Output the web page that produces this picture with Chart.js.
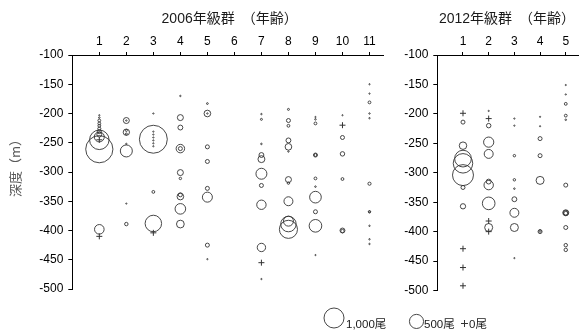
<!DOCTYPE html>
<html>
<head>
<meta charset="utf-8">
<script src="https://cdn.jsdelivr.net/npm/chart.js@4/dist/chart.umd.min.js"></script>
<style>
  html, body { margin: 0; padding: 0; width: 584px; height: 334px; overflow: hidden; background: #fff; }
  #c2006 { position: absolute; left: 0; top: 0; }
  #c2012 { position: absolute; left: 390px; top: 0; }
</style>
</head>
<body>
<canvas id="c2006" width="584" height="334"></canvas>
<canvas id="c2012" width="200" height="334"></canvas>
<script>
// 2006 year class: age (years), depth (m), number of fish caught
const ages2006 = [
  1,1,1,1,1,1,1,1,1,1,1,1,1,1,
  2,2,2,2,2,2,2,2,2,
  3,3,3,3,3,3,3,3,3,3,3,
  4,4,4,4,4,4,4,4,4,4,4,
  5,5,5,5,5,5,5,5,5,
  7,7,7,7,7,7,7,7,7,7,7,
  8,8,8,8,8,8,8,8,8,8,8,8,
  9,9,9,9,9,9,9,9,9,9,9,
  10,10,10,10,10,10,10,
  11,11,11,11,11,11,11,11,11,11,11
];
const depths2006 = [
  -203,-207,-212,-217,-221,-226,-231,-236,-240,-245,-261,-245,-398,-410,
  -212,-212,-229,-232,-235,-252,-264,-354,-389,
  -200,-231,-236,-241,-246,-251,-256,-244,-334,-388,-404,
  -170,-207,-224,-260,-260,-301,-311,-339,-342,-363,-389,
  -183,-200,-200,-257,-282,-328,-343,-425,-449,
  -201,-210,-252,-271,-278,-303,-323,-356,-429,-455,-483,
  -193,-212,-221,-246,-257,-265,-313,-319,-350,-384,-389,-398,
  -206,-210,-217,-271,-271,-311,-325,-343,-368,-392,-442,
  -203,-220,-241,-269,-312,-400,-401,
  -150,-166,-181,-200,-208,-320,-368,-368,-392,-415,-423
];
const counts2006 = [
  4,6,20,20,20,25,40,60,250,950,1850,0,230,0,
  90,5,10,100,10,5,360,3,30,
  4,4,4,4,4,4,4,1950,20,680,0,
  5,90,60,180,40,90,15,40,110,280,150,
  8,110,5,40,40,40,250,40,4,
  5,10,6,60,120,300,40,220,175,0,4,
  10,40,20,60,110,5,90,15,200,250,600,820,
  4,6,20,40,20,20,6,340,40,400,3,
  3,0,40,50,20,60,30,
  4,4,20,5,5,25,15,8,5,5,5
];

// 2012 year class
const ages2012 = [
  1,1,1,1,1,1,1,1,1,1,1,
  2,2,2,2,2,2,2,2,2,2,2,
  3,3,3,3,3,3,3,3,3,
  4,4,4,4,4,4,4,
  5,5,5,5,5,5,5,5,5,5,5,5
];
const depths2012 = [
  -199,-214,-254,-276,-284,-304,-325,-357,-429,-461,-492,
  -195,-208,-220,-248,-268,-315,-321,-352,-382,-393,-400,
  -208,-220,-271,-312,-327,-345,-368,-393,-445,
  -205,-221,-242,-271,-313,-400,-399,
  -151,-167,-183,-203,-210,-321,-368,-368,-369,-393,-423,-431
];
const counts2012 = [
  0,40,140,700,950,1100,40,70,0,0,0,
  4,0,50,260,200,60,220,400,0,160,0,
  4,4,15,15,6,60,200,160,2,
  3,3,40,40,160,40,15,
  3,4,20,20,6,40,90,60,40,40,30,30
];

const ageTicks2006 = [1,2,3,4,5,6,7,8,9,10,11];
const ageTicks2012 = [1,2,3,4,5];

// bubble area proportional to catch: 1,000 fish -> radius 10 px
const rOf = n => Math.max(0.6, 10 * Math.sqrt(n / 1000));

const INK = '#333333';
const CJK = '"Liberation Sans", "Noto Sans CJK JP", sans-serif';

function buildSets(ages, depths, counts) {
  const circles = [], zeros = [];
  ages.forEach((a, i) => {
    if (counts[i] > 0) circles.push({ x: a, y: depths[i], r: rOf(counts[i]) });
    else zeros.push({ x: a, y: depths[i], r: 3 });
  });
  return [
    { data: circles, pointStyle: 'circle', borderColor: INK, borderWidth: 0.9,
      backgroundColor: 'rgba(0,0,0,0)', clip: false },
    { data: zeros, pointStyle: 'cross', borderColor: INK, borderWidth: 1,
      backgroundColor: 'rgba(0,0,0,0)', clip: false }
  ];
}

const tickFont = { family: '"Liberation Sans", Arial, sans-serif', size: 12 };

function scales(xMax, xTicks, yWidth) {
  return {
    x: {
      type: 'linear', position: 'top', min: 0, max: xMax,
      afterBuildTicks: s => { s.ticks = xTicks.map(v => ({ value: v })); },
      afterFit: s => { s.height = 55; },
      ticks: { font: tickFont, color: '#000', padding: 3, maxRotation: 0, autoSkip: false },
      grid: { drawOnChartArea: false, drawTicks: true, tickLength: 3, color: '#000' },
      border: { display: true, color: '#000', width: 1 }
    },
    y: {
      type: 'linear', min: -500, max: -100,
      afterFit: s => { s.width = yWidth; },
      ticks: { stepSize: 50, font: tickFont, color: '#000', padding: 5 },
      grid: { drawOnChartArea: false, drawTicks: true, tickLength: 4, color: '#000' },
      border: { display: true, color: '#000', width: 1 }
    }
  };
}

// panel heading centred over the plot area
const panelTitle = {
  id: 'panelTitle',
  afterDraw(chart, args, opts) {
    const { ctx, chartArea } = chart;
    ctx.save();
    ctx.font = '14px ' + CJK;
    ctx.fillStyle = '#1a1a1a';
    ctx.textAlign = 'center';
    ctx.textBaseline = 'middle';
    ctx.fillText(opts.text, (chartArea.left + chartArea.right) / 2 + (opts.dx || 0), 19);
    ctx.restore();
  }
};

// depth axis caption and size key
const depthCaption = {
  id: 'depthCaption',
  afterDraw(chart) {
    const ctx = chart.ctx;
    ctx.save();
    ctx.translate(15, 165);
    ctx.rotate(-Math.PI / 2);
    ctx.font = '13px "Noto Sans CJK JP", sans-serif';
    ctx.fillStyle = '#595959';
    ctx.textAlign = 'center';
    ctx.textBaseline = 'middle';
    ctx.fillText('深度（m）', 0, 0);
    ctx.restore();
  }
};

const sizeKey = {
  id: 'sizeKey',
  afterDraw(chart) {
    const ctx = chart.ctx;
    ctx.save();
    ctx.strokeStyle = INK;
    ctx.lineWidth = 0.9;
    const r1 = rOf(1000), r2 = rOf(500);
    ctx.beginPath(); ctx.arc(334, 328 - r1, r1, 0, Math.PI * 2); ctx.stroke();
    ctx.beginPath(); ctx.arc(416.5, 328.5 - r2, r2, 0, Math.PI * 2); ctx.stroke();
    ctx.lineWidth = 1;
    ctx.beginPath();
    ctx.moveTo(461, 323.5); ctx.lineTo(468, 323.5);
    ctx.moveTo(464.5, 320); ctx.lineTo(464.5, 327);
    ctx.stroke();
    ctx.font = '11.5px ' + CJK;
    ctx.fillStyle = '#1a1a1a';
    ctx.textBaseline = 'alphabetic';
    ctx.fillText('1,000尾', 346, 328);
    ctx.fillText('500尾', 424, 328);
    ctx.fillText('0尾', 469, 328);
    ctx.restore();
  }
};

new Chart(document.getElementById('c2006'), {
  type: 'bubble',
  data: { datasets: buildSets(ages2006, depths2006, counts2006) },
  options: {
    responsive: false, animation: false, events: [],
    layout: { padding: { left: 0, right: 201, top: 0, bottom: 45 } },
    scales: scales(11.5, ageTicks2006, 72.3),
    plugins: {
      legend: { display: false }, tooltip: { enabled: false },
      panelTitle: { text: '2006年級群　（年齢）', dx: 2 }
    }
  },
  plugins: [panelTitle, depthCaption, sizeKey]
});

new Chart(document.getElementById('c2012'), {
  type: 'bubble',
  data: { datasets: buildSets(ages2012, depths2012, counts2012) },
  options: {
    responsive: false, animation: false, events: [],
    layout: { padding: { left: 0, right: 5, top: 0, bottom: 43.5 } },
    scales: scales(5.5, ageTicks2012, 47.3),
    plugins: {
      legend: { display: false }, tooltip: { enabled: false },
      panelTitle: { text: '2012年級群　（年齢）', dx: -1 }
    }
  },
  plugins: [panelTitle]
});
</script>
</body>
</html>
